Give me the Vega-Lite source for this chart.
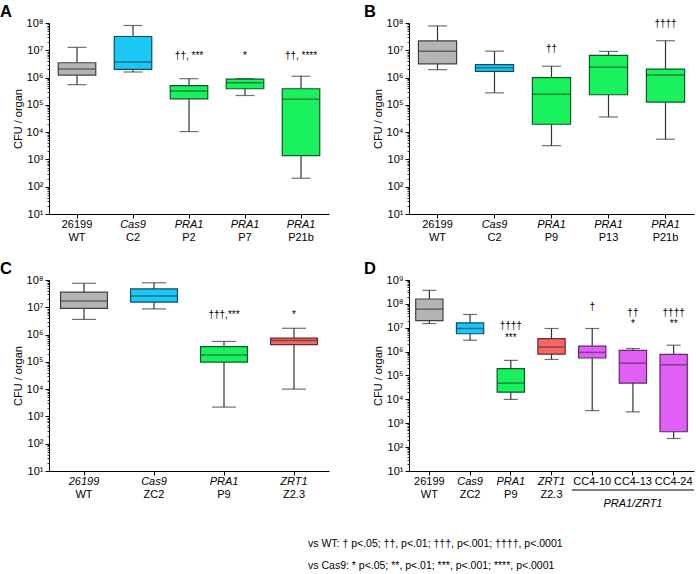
{
  "$schema": "https://vega.github.io/schema/vega-lite/v6.json",
  "background": "white",
  "padding": {"left": 0, "top": 3, "right": 3, "bottom": 2},
  "config": {
    "font": "Liberation Sans",
    "view": {"stroke": null},
    "axis": {"labelFont": "Liberation Sans", "titleFont": "Liberation Sans", "labelColor": "black", "titleColor": "black", "domainColor": "black", "tickColor": "black", "grid": false}
  },
  "datasets": {
    "box": [
      {"p": "A", "g": "26199|WT", "s": "WT", "lo": 550000, "q1": 1230000, "md": 2040000, "q3": 3500000, "hi": 12800000},
      {"p": "A", "g": "Cas9|C2", "s": "Cas9", "lo": 1600000, "q1": 2000000, "md": 3700000, "q3": 32000000, "hi": 81000000},
      {"p": "A", "g": "PRA1|P2", "s": "PRA1", "lo": 10500, "q1": 166000, "md": 320000, "q3": 510000, "hi": 910000},
      {"p": "A", "g": "PRA1|P7", "s": "PRA1", "lo": 220000, "q1": 390000, "md": 650000, "q3": 870000, "hi": 910000},
      {"p": "A", "g": "PRA1|P21b", "s": "PRA1", "lo": 204, "q1": 1380, "md": 162000, "q3": 390000, "hi": 1120000},
      {"p": "B", "g": "26199|WT", "s": "WT", "lo": 1950000, "q1": 3200000, "md": 9300000, "q3": 22000000, "hi": 78000000},
      {"p": "B", "g": "Cas9|C2", "s": "Cas9", "lo": 275000, "q1": 1700000, "md": 2300000, "q3": 3000000, "hi": 9300000},
      {"p": "B", "g": "PRA1|P9", "s": "PRA1", "lo": 3200, "q1": 19500, "md": 245000, "q3": 1000000, "hi": 2600000},
      {"p": "B", "g": "PRA1|P13", "s": "PRA1", "lo": 36000, "q1": 235000, "md": 2400000, "q3": 6500000, "hi": 9100000},
      {"p": "B", "g": "PRA1|P21b", "s": "PRA1", "lo": 5500, "q1": 126000, "md": 1230000, "q3": 2040000, "hi": 22400000},
      {"p": "C", "g": "26199|WT", "s": "WT", "lo": 3600000, "q1": 9100000, "md": 17000000, "q3": 36000000, "hi": 76000000},
      {"p": "C", "g": "Cas9|ZC2", "s": "Cas9", "lo": 8700000, "q1": 15500000, "md": 26000000, "q3": 47000000, "hi": 79000000},
      {"p": "C", "g": "PRA1|P9", "s": "PRA1", "lo": 2200, "q1": 98000, "md": 180000, "q3": 360000, "hi": 560000},
      {"p": "C", "g": "ZRT1|Z2.3", "s": "ZRT1", "lo": 10000, "q1": 430000, "md": 600000, "q3": 740000, "hi": 1700000},
      {"p": "D", "g": "26199|WT", "s": "WT", "lo": 15000000, "q1": 20000000, "md": 60000000, "q3": 160000000, "hi": 370000000},
      {"p": "D", "g": "Cas9|ZC2", "s": "Cas9", "lo": 3000000, "q1": 5600000, "md": 9300000, "q3": 16000000, "hi": 36000000},
      {"p": "D", "g": "PRA1|P9", "s": "PRA1", "lo": 10000, "q1": 20000, "md": 48000, "q3": 195000, "hi": 430000},
      {"p": "D", "g": "ZRT1|Z2.3", "s": "ZRT1", "lo": 470000, "q1": 790000, "md": 1550000, "q3": 3500000, "hi": 9300000},
      {"p": "D", "g": "CC4-10|", "s": "DKO", "lo": 3400, "q1": 540000, "md": 930000, "q3": 1700000, "hi": 9300000},
      {"p": "D", "g": "CC4-13|", "s": "DKO", "lo": 3000, "q1": 48000, "md": 330000, "q3": 1120000, "hi": 1350000},
      {"p": "D", "g": "CC4-24|", "s": "DKO", "lo": 230, "q1": 440, "md": 280000, "q3": 760000, "hi": 1860000}
    ],
    "ann": [
      {"p": "A", "g": "PRA1|P2", "t": "††, ***", "v": 6200000},
      {"p": "A", "g": "PRA1|P7", "t": "*", "v": 6200000},
      {"p": "A", "g": "PRA1|P21b", "t": "††, ****", "v": 6200000},
      {"p": "B", "g": "PRA1|P9", "t": "††", "v": 11500000},
      {"p": "B", "g": "PRA1|P21b", "t": "††††", "v": 94000000},
      {"p": "C", "g": "PRA1|P9", "t": "†††,***", "v": 5100000},
      {"p": "C", "g": "ZRT1|Z2.3", "t": "*", "v": 5100000},
      {"p": "D", "g": "PRA1|P9", "t": "††††", "v": 11500000},
      {"p": "D", "g": "PRA1|P9", "t": "***", "v": 3900000},
      {"p": "D", "g": "CC4-10|", "t": "†", "v": 71000000},
      {"p": "D", "g": "CC4-13|", "t": "††", "v": 42000000},
      {"p": "D", "g": "CC4-13|", "t": "*", "v": 15000000},
      {"p": "D", "g": "CC4-24|", "t": "††††", "v": 42000000},
      {"p": "D", "g": "CC4-24|", "t": "**", "v": 15000000}
    ]
  },
  "columns": 2,
  "spacing": {"row": 18, "column": 35},
  "title": {
    "text": ["vs WT: † p<.05; ††, p<.01; †††, p<.001; ††††, p<.0001", "vs Cas9: * p<.05; **, p<.01; ***, p<.001; ****, p<.0001"],
    "orient": "bottom", "anchor": "start", "frame": "bounds", "dx": 308, "offset": 30,
    "fontSize": 10.5, "fontWeight": "normal", "lineHeight": 22, "font": "Liberation Sans", "color": "black"
  },
  "concat": [
    {
      "title": {"text": "A", "anchor": "start", "frame": "bounds", "fontSize": 16.5, "fontWeight": "bold", "offset": -3, "dx": -12, "color": "black"},
      "width": 280, "height": 191,
      "data": {"name": "box"},
      "transform": [{"filter": "datum.p == 'A'"}],
      "resolve": {"axis": {"x": "independent", "y": "independent"}},
      "layer": [
        {"mark": {"type": "rule", "color": "#333333", "strokeWidth": 1.2},
         "encoding": {
           "x": {"field": "g", "type": "nominal", "scale": {"domain": ["26199|WT", "Cas9|C2", "PRA1|P2", "PRA1|P7", "PRA1|P21b"], "paddingInner": 0, "paddingOuter": 0},
                 "axis": {"orient": "bottom", "title": null, "labelExpr": "split(datum.value, '|')[0]", "labelAngle": 0, "labelFontSize": 11, "tickSize": 4, "labelPadding": 0,
                          "labelFontStyle": {"condition": {"test": "indexof(datum.value, '26199') == 0", "value": "normal"}, "value": "italic"}}},
           "y": {"field": "lo", "type": "quantitative", "scale": {"type": "log", "domain": [10, 100000000], "nice": false},
                 "axis": {"orient": "left", "values": [10, 100, 1000, 10000, 100000, 1000000, 10000000, 100000000], "labelExpr": "'10' + ['⁰','¹','²','³','⁴','⁵','⁶','⁷','⁸','⁹'][round(log(datum.value)/LN10)]",
                          "title": "CFU / organ", "titleFontSize": 11, "titleFontWeight": "normal", "labelFontSize": 11, "tickSize": 4, "labelPadding": 2, "titlePadding": 3}},
           "y2": {"field": "hi"}}},
        {"mark": {"type": "tick", "color": "#333333", "size": 19, "thickness": 1.2},
         "encoding": {"x": {"field": "g", "type": "nominal", "axis": null},
                      "y": {"field": "lo", "type": "quantitative", "axis": {"orient": "left", "title": null, "labels": false, "domain": false, "tickSize": 2, "tickWidth": 0.8,
                            "values": [20,30,40,50,60,70,80,90,200,300,400,500,600,700,800,900,2000,3000,4000,5000,6000,7000,8000,9000,20000,30000,40000,50000,60000,70000,80000,90000,200000,300000,400000,500000,600000,700000,800000,900000,2000000,3000000,4000000,5000000,6000000,7000000,8000000,9000000,20000000,30000000,40000000,50000000,60000000,70000000,80000000,90000000]}}}},
        {"mark": {"type": "tick", "color": "#333333", "size": 19, "thickness": 1.2},
         "encoding": {"x": {"field": "g", "type": "nominal", "axis": null}, "y": {"field": "hi", "type": "quantitative", "axis": null}}},
        {"mark": {"type": "bar", "width": {"band": 0.67}, "strokeWidth": 1.2},
         "encoding": {
           "x": {"field": "g", "type": "nominal", "axis": {"orient": "bottom", "title": null, "labelExpr": "split(datum.value, '|')[1]", "labelAngle": 0, "labelFontSize": 11, "domain": false, "ticks": false, "labelPadding": 17}},
           "y": {"field": "q1", "type": "quantitative", "axis": null}, "y2": {"field": "q3"},
           "fill": {"field": "s", "type": "nominal", "legend": null, "scale": {"domain": ["WT", "Cas9", "PRA1", "ZRT1", "DKO"], "range": ["#b4b4b4", "#1cc6f5", "#19f25e", "#f56666", "#e060f5"]}},
           "stroke": {"field": "s", "type": "nominal", "legend": null, "scale": {"domain": ["WT", "Cas9", "PRA1", "ZRT1", "DKO"], "range": ["#404040", "#0d4e63", "#0b5a25", "#6b2a2a", "#5e2a66"]}}}},
        {"mark": {"type": "tick", "size": 37.5, "thickness": 1.5},
         "encoding": {"x": {"field": "g", "type": "nominal", "axis": null}, "y": {"field": "md", "type": "quantitative", "axis": null},
                      "color": {"field": "s", "type": "nominal", "legend": null, "scale": {"domain": ["WT", "Cas9", "PRA1", "ZRT1", "DKO"], "range": ["#404040", "#0d4e63", "#0b5a25", "#6b2a2a", "#5e2a66"]}}}},
        {"data": {"name": "ann"}, "transform": [{"filter": "datum.p == 'A'"}],
         "mark": {"type": "text", "fontSize": 10, "color": "black"},
         "encoding": {"x": {"field": "g", "type": "nominal", "axis": null}, "y": {"field": "v", "type": "quantitative", "axis": null}, "text": {"field": "t"}}}
      ]
    },
    {
      "title": {"text": "B", "anchor": "start", "frame": "bounds", "fontSize": 16.5, "fontWeight": "bold", "offset": -3, "dx": -8, "color": "black"},
      "width": 285, "height": 191,
      "data": {"name": "box"},
      "transform": [{"filter": "datum.p == 'B'"}],
      "resolve": {"axis": {"x": "independent", "y": "independent"}},
      "layer": [
        {"mark": {"type": "rule", "color": "#333333", "strokeWidth": 1.2},
         "encoding": {
           "x": {"field": "g", "type": "nominal", "scale": {"domain": ["26199|WT", "Cas9|C2", "PRA1|P9", "PRA1|P13", "PRA1|P21b"], "paddingInner": 0, "paddingOuter": 0},
                 "axis": {"orient": "bottom", "title": null, "labelExpr": "split(datum.value, '|')[0]", "labelAngle": 0, "labelFontSize": 11, "tickSize": 4, "labelPadding": 0,
                          "labelFontStyle": {"condition": {"test": "indexof(datum.value, '26199') == 0", "value": "normal"}, "value": "italic"}}},
           "y": {"field": "lo", "type": "quantitative", "scale": {"type": "log", "domain": [10, 100000000], "nice": false},
                 "axis": {"orient": "left", "values": [10, 100, 1000, 10000, 100000, 1000000, 10000000, 100000000], "labelExpr": "'10' + ['⁰','¹','²','³','⁴','⁵','⁶','⁷','⁸','⁹'][round(log(datum.value)/LN10)]",
                          "title": "CFU / organ", "titleFontSize": 11, "titleFontWeight": "normal", "labelFontSize": 11, "tickSize": 4, "labelPadding": 2, "titlePadding": 3}},
           "y2": {"field": "hi"}}},
        {"mark": {"type": "tick", "color": "#333333", "size": 19, "thickness": 1.2},
         "encoding": {"x": {"field": "g", "type": "nominal", "axis": null},
                      "y": {"field": "lo", "type": "quantitative", "axis": {"orient": "left", "title": null, "labels": false, "domain": false, "tickSize": 2, "tickWidth": 0.8,
                            "values": [20,30,40,50,60,70,80,90,200,300,400,500,600,700,800,900,2000,3000,4000,5000,6000,7000,8000,9000,20000,30000,40000,50000,60000,70000,80000,90000,200000,300000,400000,500000,600000,700000,800000,900000,2000000,3000000,4000000,5000000,6000000,7000000,8000000,9000000,20000000,30000000,40000000,50000000,60000000,70000000,80000000,90000000]}}}},
        {"mark": {"type": "tick", "color": "#333333", "size": 19, "thickness": 1.2},
         "encoding": {"x": {"field": "g", "type": "nominal", "axis": null}, "y": {"field": "hi", "type": "quantitative", "axis": null}}},
        {"mark": {"type": "bar", "width": {"band": 0.67}, "strokeWidth": 1.2},
         "encoding": {
           "x": {"field": "g", "type": "nominal", "axis": {"orient": "bottom", "title": null, "labelExpr": "split(datum.value, '|')[1]", "labelAngle": 0, "labelFontSize": 11, "domain": false, "ticks": false, "labelPadding": 17}},
           "y": {"field": "q1", "type": "quantitative", "axis": null}, "y2": {"field": "q3"},
           "fill": {"field": "s", "type": "nominal", "legend": null, "scale": {"domain": ["WT", "Cas9", "PRA1", "ZRT1", "DKO"], "range": ["#b4b4b4", "#1cc6f5", "#19f25e", "#f56666", "#e060f5"]}},
           "stroke": {"field": "s", "type": "nominal", "legend": null, "scale": {"domain": ["WT", "Cas9", "PRA1", "ZRT1", "DKO"], "range": ["#404040", "#0d4e63", "#0b5a25", "#6b2a2a", "#5e2a66"]}}}},
        {"mark": {"type": "tick", "size": 38, "thickness": 1.5},
         "encoding": {"x": {"field": "g", "type": "nominal", "axis": null}, "y": {"field": "md", "type": "quantitative", "axis": null},
                      "color": {"field": "s", "type": "nominal", "legend": null, "scale": {"domain": ["WT", "Cas9", "PRA1", "ZRT1", "DKO"], "range": ["#404040", "#0d4e63", "#0b5a25", "#6b2a2a", "#5e2a66"]}}}},
        {"data": {"name": "ann"}, "transform": [{"filter": "datum.p == 'B'"}],
         "mark": {"type": "text", "fontSize": 10, "color": "black"},
         "encoding": {"x": {"field": "g", "type": "nominal", "axis": null}, "y": {"field": "v", "type": "quantitative", "axis": null}, "text": {"field": "t"}}}
      ]
    },
    {
      "title": {"text": "C", "anchor": "start", "frame": "bounds", "fontSize": 16.5, "fontWeight": "bold", "offset": -3, "dx": -12, "color": "black"},
      "width": 280, "height": 191,
      "data": {"name": "box"},
      "transform": [{"filter": "datum.p == 'C'"}],
      "resolve": {"axis": {"x": "independent", "y": "independent"}},
      "layer": [
        {"mark": {"type": "rule", "color": "#333333", "strokeWidth": 1.2},
         "encoding": {
           "x": {"field": "g", "type": "nominal", "scale": {"domain": ["26199|WT", "Cas9|ZC2", "PRA1|P9", "ZRT1|Z2.3"], "paddingInner": 0, "paddingOuter": 0},
                 "axis": {"orient": "bottom", "title": null, "labelExpr": "split(datum.value, '|')[0]", "labelAngle": 0, "labelFontSize": 11, "tickSize": 4, "labelPadding": 0, "labelFontStyle": "italic"}},
           "y": {"field": "lo", "type": "quantitative", "scale": {"type": "log", "domain": [10, 100000000], "nice": false},
                 "axis": {"orient": "left", "values": [10, 100, 1000, 10000, 100000, 1000000, 10000000, 100000000], "labelExpr": "'10' + ['⁰','¹','²','³','⁴','⁵','⁶','⁷','⁸','⁹'][round(log(datum.value)/LN10)]",
                          "title": "CFU / organ", "titleFontSize": 11, "titleFontWeight": "normal", "labelFontSize": 11, "tickSize": 4, "labelPadding": 2, "titlePadding": 3}},
           "y2": {"field": "hi"}}},
        {"mark": {"type": "tick", "color": "#333333", "size": 24, "thickness": 1.2},
         "encoding": {"x": {"field": "g", "type": "nominal", "axis": null},
                      "y": {"field": "lo", "type": "quantitative", "axis": {"orient": "left", "title": null, "labels": false, "domain": false, "tickSize": 2, "tickWidth": 0.8,
                            "values": [20,30,40,50,60,70,80,90,200,300,400,500,600,700,800,900,2000,3000,4000,5000,6000,7000,8000,9000,20000,30000,40000,50000,60000,70000,80000,90000,200000,300000,400000,500000,600000,700000,800000,900000,2000000,3000000,4000000,5000000,6000000,7000000,8000000,9000000,20000000,30000000,40000000,50000000,60000000,70000000,80000000,90000000]}}}},
        {"mark": {"type": "tick", "color": "#333333", "size": 24, "thickness": 1.2},
         "encoding": {"x": {"field": "g", "type": "nominal", "axis": null}, "y": {"field": "hi", "type": "quantitative", "axis": null}}},
        {"mark": {"type": "bar", "width": {"band": 0.67}, "strokeWidth": 1.2},
         "encoding": {
           "x": {"field": "g", "type": "nominal", "axis": {"orient": "bottom", "title": null, "labelExpr": "split(datum.value, '|')[1]", "labelAngle": 0, "labelFontSize": 11, "domain": false, "ticks": false, "labelPadding": 17}},
           "y": {"field": "q1", "type": "quantitative", "axis": null}, "y2": {"field": "q3"},
           "fill": {"field": "s", "type": "nominal", "legend": null, "scale": {"domain": ["WT", "Cas9", "PRA1", "ZRT1", "DKO"], "range": ["#b4b4b4", "#1cc6f5", "#19f25e", "#f56666", "#e060f5"]}},
           "stroke": {"field": "s", "type": "nominal", "legend": null, "scale": {"domain": ["WT", "Cas9", "PRA1", "ZRT1", "DKO"], "range": ["#404040", "#0d4e63", "#0b5a25", "#6b2a2a", "#5e2a66"]}}}},
        {"mark": {"type": "tick", "size": 47, "thickness": 1.5},
         "encoding": {"x": {"field": "g", "type": "nominal", "axis": null}, "y": {"field": "md", "type": "quantitative", "axis": null},
                      "color": {"field": "s", "type": "nominal", "legend": null, "scale": {"domain": ["WT", "Cas9", "PRA1", "ZRT1", "DKO"], "range": ["#404040", "#0d4e63", "#0b5a25", "#6b2a2a", "#5e2a66"]}}}},
        {"data": {"name": "ann"}, "transform": [{"filter": "datum.p == 'C'"}],
         "mark": {"type": "text", "fontSize": 10, "color": "black"},
         "encoding": {"x": {"field": "g", "type": "nominal", "axis": null}, "y": {"field": "v", "type": "quantitative", "axis": null}, "text": {"field": "t"}}}
      ]
    },
    {
      "title": {"text": "D", "anchor": "start", "frame": "bounds", "fontSize": 16.5, "fontWeight": "bold", "offset": -3, "dx": -8, "color": "black"},
      "width": 285, "height": 191,
      "data": {"name": "box"},
      "transform": [{"filter": "datum.p == 'D'"}],
      "resolve": {"axis": {"x": "independent", "y": "independent"}},
      "layer": [
        {"mark": {"type": "rule", "color": "#333333", "strokeWidth": 1.2},
         "encoding": {
           "x": {"field": "g", "type": "nominal", "scale": {"domain": ["26199|WT", "Cas9|ZC2", "PRA1|P9", "ZRT1|Z2.3", "CC4-10|", "CC4-13|", "CC4-24|"], "paddingInner": 0, "paddingOuter": 0},
                 "axis": {"orient": "bottom", "title": null, "labelExpr": "split(datum.value, '|')[0]", "labelAngle": 0, "labelFontSize": 11, "tickSize": 4, "labelPadding": 0,
                          "labelFontStyle": {"condition": {"test": "indexof(datum.value, '26199') == 0 || indexof(datum.value, 'CC4') == 0", "value": "normal"}, "value": "italic"}}},
           "y": {"field": "lo", "type": "quantitative", "scale": {"type": "log", "domain": [10, 1000000000], "nice": false},
                 "axis": {"orient": "left", "values": [10, 100, 1000, 10000, 100000, 1000000, 10000000, 100000000, 1000000000], "labelExpr": "'10' + ['⁰','¹','²','³','⁴','⁵','⁶','⁷','⁸','⁹'][round(log(datum.value)/LN10)]",
                          "title": "CFU / organ", "titleFontSize": 11, "titleFontWeight": "normal", "labelFontSize": 11, "tickSize": 4, "labelPadding": 2, "titlePadding": 3}},
           "y2": {"field": "hi"}}},
        {"mark": {"type": "tick", "color": "#333333", "size": 14, "thickness": 1.2},
         "encoding": {"x": {"field": "g", "type": "nominal", "axis": null},
                      "y": {"field": "lo", "type": "quantitative", "axis": {"orient": "left", "title": null, "labels": false, "domain": false, "tickSize": 2, "tickWidth": 0.8,
                            "values": [20,30,40,50,60,70,80,90,200,300,400,500,600,700,800,900,2000,3000,4000,5000,6000,7000,8000,9000,20000,30000,40000,50000,60000,70000,80000,90000,200000,300000,400000,500000,600000,700000,800000,900000,2000000,3000000,4000000,5000000,6000000,7000000,8000000,9000000,20000000,30000000,40000000,50000000,60000000,70000000,80000000,90000000,200000000,300000000,400000000,500000000,600000000,700000000,800000000,900000000]}}}},
        {"mark": {"type": "tick", "color": "#333333", "size": 14, "thickness": 1.2},
         "encoding": {"x": {"field": "g", "type": "nominal", "axis": null}, "y": {"field": "hi", "type": "quantitative", "axis": null}}},
        {"mark": {"type": "bar", "width": {"band": 0.67}, "strokeWidth": 1.2},
         "encoding": {
           "x": {"field": "g", "type": "nominal", "axis": {"orient": "bottom", "title": null, "labelExpr": "split(datum.value, '|')[1]", "labelAngle": 0, "labelFontSize": 11, "domain": false, "ticks": false, "labelPadding": 17}},
           "y": {"field": "q1", "type": "quantitative", "axis": null}, "y2": {"field": "q3"},
           "fill": {"field": "s", "type": "nominal", "legend": null, "scale": {"domain": ["WT", "Cas9", "PRA1", "ZRT1", "DKO"], "range": ["#b4b4b4", "#1cc6f5", "#19f25e", "#f56666", "#e060f5"]}},
           "stroke": {"field": "s", "type": "nominal", "legend": null, "scale": {"domain": ["WT", "Cas9", "PRA1", "ZRT1", "DKO"], "range": ["#404040", "#0d4e63", "#0b5a25", "#6b2a2a", "#5e2a66"]}}}},
        {"mark": {"type": "tick", "size": 27, "thickness": 1.5},
         "encoding": {"x": {"field": "g", "type": "nominal", "axis": null}, "y": {"field": "md", "type": "quantitative", "axis": null},
                      "color": {"field": "s", "type": "nominal", "legend": null, "scale": {"domain": ["WT", "Cas9", "PRA1", "ZRT1", "DKO"], "range": ["#404040", "#0d4e63", "#0b5a25", "#6b2a2a", "#5e2a66"]}}}},
        {"data": {"name": "ann"}, "transform": [{"filter": "datum.p == 'D'"}],
         "mark": {"type": "text", "fontSize": 10, "color": "black"},
         "encoding": {"x": {"field": "g", "type": "nominal", "axis": null}, "y": {"field": "v", "type": "quantitative", "axis": null}, "text": {"field": "t"}}},
        {"data": {"values": [{"lab": "PRA1/ZRT1"}]},
         "mark": {"type": "rule", "color": "black", "strokeWidth": 1},
         "encoding": {"x": {"datum": "CC4-10|", "bandPosition": 0, "axis": null}, "x2": {"datum": "CC4-24|", "bandPosition": 1}, "y": {"datum": 1.6, "axis": null}}},
        {"data": {"values": [{"lab": "PRA1/ZRT1"}]},
         "mark": {"type": "text", "fontSize": 11, "fontStyle": "italic", "color": "black"},
         "encoding": {"x": {"datum": "CC4-13|", "axis": null}, "y": {"datum": 0.42, "axis": null}, "text": {"field": "lab"}}}
      ]
    }
  ]
}
